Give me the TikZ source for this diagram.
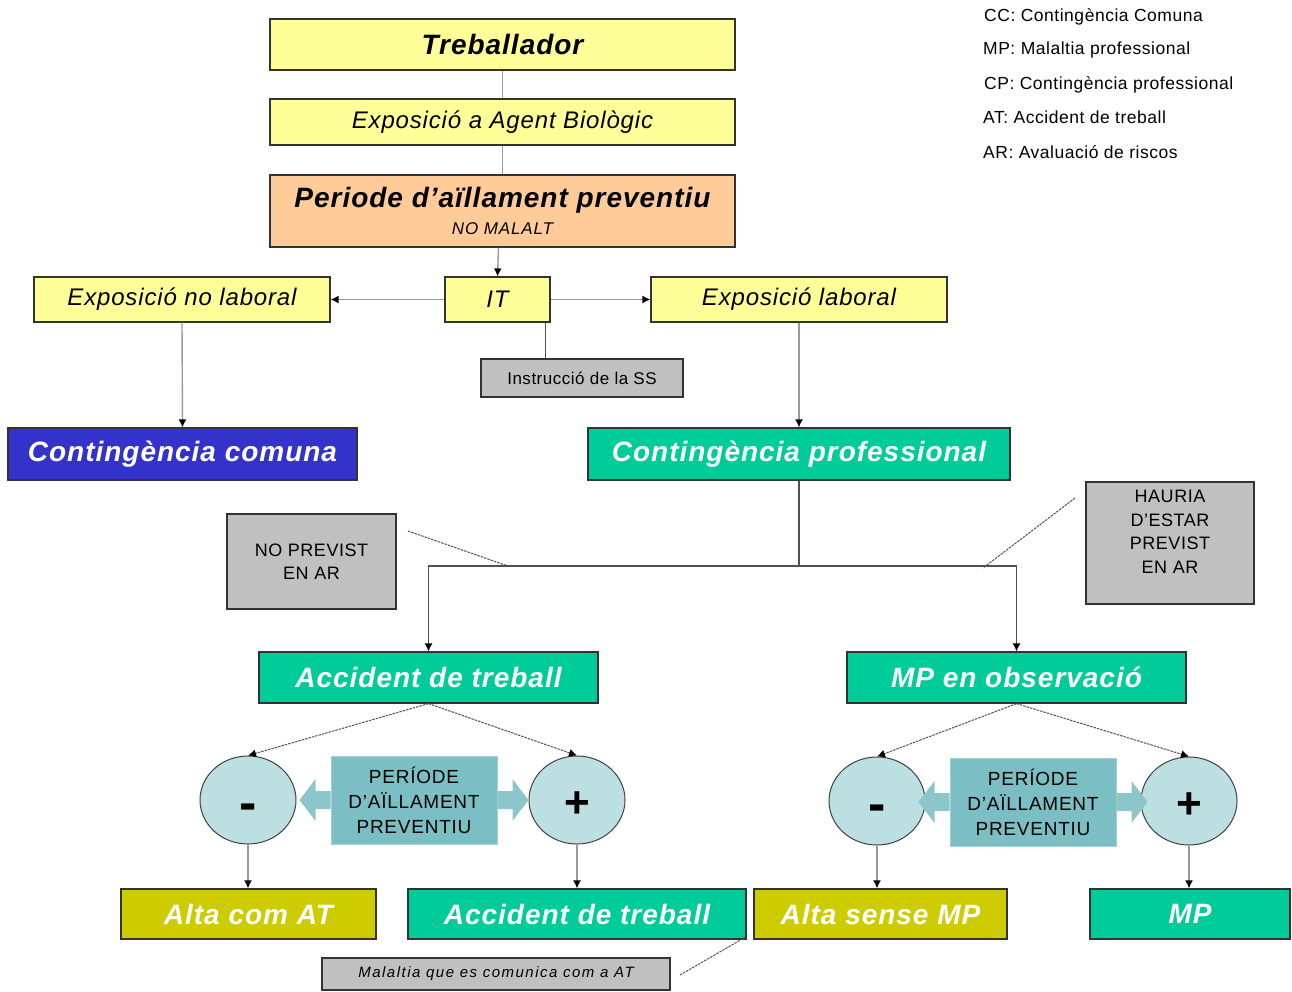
\documentclass[tikz,border=0pt]{standalone}
\usepackage{fontspec}
\setmainfont{Liberation Sans}
\usetikzlibrary{arrows.meta,shapes.geometric}
\definecolor{cyel}{HTML}{FFFF99}
\definecolor{cpeach}{HTML}{FFCC99}
\definecolor{cblue}{HTML}{3333CC}
\definecolor{cgreen}{HTML}{00CC99}
\definecolor{colive}{HTML}{CCCC00}
\definecolor{cgray}{HTML}{C0C0C0}
\definecolor{ccirc}{HTML}{BCDFE2}
\definecolor{cteal}{HTML}{7BBFC5}
\definecolor{cbarrow}{HTML}{8CC6CB}
\definecolor{cline}{HTML}{9A9A9A}
\definecolor{cdark}{HTML}{505050}
\begin{document}
\begin{tikzpicture}[x=1pt,y=-1pt,
  box/.style={draw=black!80, line width=1.2pt, inner sep=0pt, align=center, anchor=center},
  ybox/.style={box, fill=cyel},
  gbox/.style={box, fill=cgray},
  tbig/.style={font=\fontsize{28}{32}\selectfont\bfseries\itshape\addfontfeatures{LetterSpace=3.5}},
  tital/.style={font=\fontsize{24}{28}\selectfont\itshape\addfontfeatures{LetterSpace=3.5}},
  tsmall/.style={font=\fontsize{18}{23.5}\selectfont\addfontfeatures{LetterSpace=3}},
  circ/.style={ellipse, draw=black!75, line width=1pt, fill=ccirc, minimum width=96pt, minimum height=88pt, inner sep=0pt, font=\bfseries},
  perbox/.style={draw=cteal!70!white, line width=1pt, fill=cteal, minimum width=166pt, minimum height=88pt, inner sep=0pt, align=center, font=\fontsize{19}{25}\selectfont\addfontfeatures{LetterSpace=4}},
  conn/.style={draw=cline, line width=1.4pt},
  darr/.style={draw=cdark, line width=1.2pt},
  tip/.style={-{Latex[length=8pt,width=8pt,color=black]}},
  dsh/.style={draw=cdark, line width=1pt, dash pattern=on 2.5pt off 1pt, -{Latex[length=8pt,width=8pt,color=black]}},
  legend/.style={anchor=west, inner sep=0pt, font=\fontsize{17.5}{20}\selectfont\addfontfeatures{LetterSpace=3}},
  blockl/.pic={\fill[cbarrow] (0,-9) -- (-15,-9) -- (-15,-21) -- (-31,0) -- (-15,21) -- (-15,9) -- (0,9) -- cycle;},
  blockr/.pic={\fill[cbarrow] (0,-9) -- (15,-9) -- (15,-21) -- (31,0) -- (15,21) -- (15,9) -- (0,9) -- cycle;}
]
\useasboundingbox (0,0) rectangle (1292,991);

% legend
\node[legend] (l1) at (984,17) {CC: Contingència Comuna};
\node[legend] (l2) at (983,50) {MP: Malaltia professional};
\node[legend] (l3) at (984,85) {CP: Contingència professional};
\node[legend] (l4) at (983,117) {AT: Accident de treball};
\node[legend] (l5) at (983,152) {AR: Avaluació de riscos};

% top chain
\node[ybox, minimum width=465pt, minimum height=51pt, tbig] (trab) at (502.5,44.5) {Treballador};
\node[ybox, minimum width=465pt, minimum height=46pt, tital] (expo) at (502.5,122) {Exposició a Agent Biològic};
\node[box, fill=cpeach, minimum width=465pt, minimum height=72pt] (per) at (502.5,211)
  {{\fontsize{28}{28}\selectfont\bfseries\itshape\addfontfeatures{LetterSpace=3.5}Periode d’aïllament preventiu}\\[8pt]{\fontsize{17}{17}\selectfont\itshape\addfontfeatures{LetterSpace=5}NO MALALT}};

\node[ybox, minimum width=296pt, minimum height=45pt, tital] (nolab) at (182,299.5) {Exposició no laboral};
\node[ybox, minimum width=105pt, minimum height=45pt, tital] (it) at (497.5,299.5) {IT};
\node[ybox, minimum width=296pt, minimum height=45pt, tital] (lab) at (799,299.5) {Exposició laboral};
\node[gbox, minimum width=202pt, minimum height=38pt, tsmall, font=\fontsize{17}{20}\selectfont\addfontfeatures{LetterSpace=3}] (instr) at (582,378) {Instrucció de la SS};

\node[box, fill=cblue, text=white, minimum width=349pt, minimum height=52pt, tbig] (cc) at (182.5,454) {Contingència comuna};
\node[box, fill=cgreen, text=white, minimum width=422pt, minimum height=52pt, tbig] (cp) at (799,454) {Contingència professional};

\node[gbox, minimum width=169pt, minimum height=95pt, tsmall] (noprev) at (311.5,561.5) {NO PREVIST\\EN AR};
\node[gbox, minimum width=168pt, minimum height=122pt, tsmall] (hauria) at (1170,543) {HAURIA\\D’ESTAR\\PREVIST\\EN AR\\[-1.5pt]};

\node[box, fill=cgreen, text=white, minimum width=339pt, minimum height=51pt, tbig] (acc) at (428.5,677.5) {Accident de treball};
\node[box, fill=cgreen, text=white, minimum width=339pt, minimum height=51pt, tbig] (mpo) at (1016.5,677.5) {MP en observació};

\node[circ] (m1) at (248,800) {\fontsize{52}{52}\selectfont\smash{\raisebox{-20pt}{-}}};
\node[circ] (p1) at (577,800) {\fontsize{44}{44}\selectfont\smash{\raisebox{-17pt}{+}}};
\node[perbox] (per1) at (414,800) {PERÍODE\\D'AÏLLAMENT\\PREVENTIU};
\node[circ] (m2) at (877,801) {\fontsize{52}{52}\selectfont\smash{\raisebox{-20pt}{-}}};
\node[circ] (p2) at (1189,801) {\fontsize{44}{44}\selectfont\smash{\raisebox{-17pt}{+}}};
\node[perbox] (per2) at (1033,802) {PERÍODE\\D'AÏLLAMENT\\PREVENTIU};
\pic at (per1.west) {blockl};
\pic at (per1.east) {blockr};
\pic at (per2.west) {blockl};
\pic at (per2.east) {blockr};

\node[box, fill=colive, text=white, minimum width=255pt, minimum height=50pt, tbig] (alta1) at (248.5,914) {Alta com AT};
\node[box, fill=cgreen, text=white, minimum width=338pt, minimum height=50pt, tbig] (acc2) at (577,914) {Accident de treball};
\node[box, fill=colive, text=white, minimum width=253pt, minimum height=50pt, tbig] (alta2) at (880.5,914) {Alta sense MP};
\node[box, fill=cgreen, text=white, minimum width=200pt, minimum height=50pt, tbig] (mp) at (1190,914) {MP};
\node[gbox, minimum width=348pt, minimum height=32pt, font=\fontsize{15}{18}\selectfont\itshape\addfontfeatures{LetterSpace=10}] (mal) at (496,974) {Malaltia que es comunica com a AT};

% connectors
\draw[conn] (trab.south) -- (expo.north);
\draw[conn] (expo.south) -- (per.north);
\draw[conn, tip] ([xshift=-4pt]per.south) -- (it.north);
\draw[conn, tip] (it.west) -- (nolab.east);
\draw[conn, tip] (it.east) -- (lab.west);
\draw[darr] ([xshift=-5pt]it.south east) -- ([xshift=-5pt]it.south east |- instr.north);
\draw[conn, tip] (nolab.south) -- (cc.north);
\draw[conn, tip] (lab.south) -- (cp.north);

\coordinate (jn) at (799,566);
\draw[darr] (cp.south) -- (jn);
\draw[darr, tip] (jn) -| (acc.north);
\draw[darr, tip] (jn) -| (mpo.north);
\coordinate (np1) at (408,531);
\coordinate (np2) at (508,566);
\draw[draw=cdark, line width=1pt, dash pattern=on 2.5pt off 1pt] (np1) -- (np2);
\coordinate (ha1) at (1075,498);
\coordinate (ha2) at (983,568);
\draw[draw=cdark, line width=1pt, dash pattern=on 2.5pt off 1pt] (ha1) -- (ha2);

\draw[dsh] (acc.south) -- (m1.north);
\draw[dsh] (acc.south) -- (p1.north);
\draw[dsh] (mpo.south) -- (m2.north);
\draw[dsh] (mpo.south) -- (p2.north);

\draw[conn, tip] (m1.south) -- (alta1.north -| m1.south);
\draw[conn, tip] (p1.south) -- (acc2.north -| p1.south);
\draw[conn, tip] (m2.south) -- (alta2.north -| m2.south);
\draw[conn, tip] (p2.south) -- (mp.north -| p2.south);

\coordinate (ml) at (680,975);
\draw[draw=cdark, line width=1pt, dash pattern=on 2.5pt off 1pt] (ml) -- ([shift={(-2pt,2pt)}]acc2.south east);
\end{tikzpicture}
\end{document}
